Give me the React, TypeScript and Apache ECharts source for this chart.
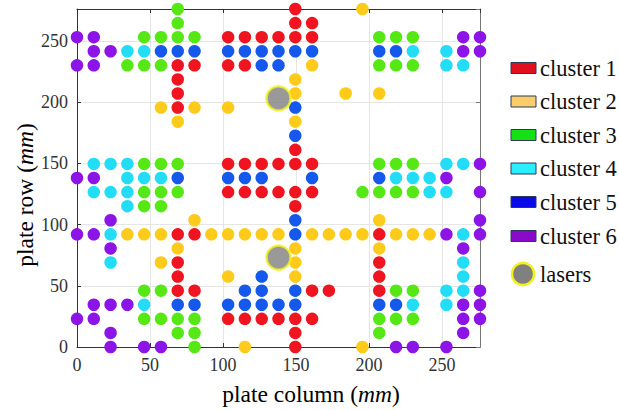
import React, { useEffect, useRef } from "react";
import * as echarts from "echarts";

const clusterNames = ["cluster 1", "cluster 2", "cluster 3", "cluster 4", "cluster 5", "cluster 6"];
const markerColors = ["#F01420", "#FFCB1A", "#55E814", "#22DDF5", "#1458EC", "#8C14E6"];
const legendColors = ["#E0101E", "#F8CD6A", "#14E014", "#2AEEFF", "#0A0AE6", "#8A0ACC"];

const xTicks = [0, 50, 100, 150, 200, 250];
const yTicks = [0, 50, 100, 150, 200, 250];
const xTitle = "{n|plate column (}{i|mm}{n|)}";
const yTitle = "{n|plate row (}{i|mm}{n|)}";

// positions in mm (plate column, plate row)
const cluster1: number[][] = [
  [69, 230], [80.5, 230], [69, 218.5], [69, 207], [69, 195.5],
  [103.5, 253], [115, 253], [126.5, 253], [138, 253], [149.5, 253], [161, 253],
  [149.5, 276], [149.5, 264.5], [161, 264.5], [103.5, 230], [115, 230],
  [149.5, 161],
  [103.5, 149.5], [115, 149.5], [126.5, 149.5], [138, 149.5], [149.5, 149.5], [161, 149.5],
  [103.5, 126.5], [115, 126.5], [126.5, 126.5], [138, 126.5], [149.5, 126.5], [161, 126.5],
  [149.5, 115],
  [69, 92], [80.5, 92], [69, 69], [69, 57.5], [69, 46], [80.5, 46],
  [161, 46], [172.5, 46],
  [103.5, 23], [115, 23], [126.5, 23], [138, 23], [149.5, 23], [161, 23],
  [149.5, 11.5], [149.5, 0],
  [207, 92], [207, 69], [207, 57.5], [207, 46],
];
const cluster2: number[][] = [
  [57.5, 195.5], [80.5, 195.5], [69, 184],
  [161, 230], [149.5, 218.5], [149.5, 207], [184, 207], [103.5, 195.5], [149.5, 184], [195.5, 276], [207, 207],
  [80.5, 103.5],
  [34.5, 92], [46, 92], [57.5, 92], [92, 92], [103.5, 92], [115, 92], [126.5, 92], [138, 92],
  [161, 92], [172.5, 92], [184, 92], [195.5, 92], [218.5, 92], [230, 92], [241.5, 92],
  [207, 103.5],
  [69, 80.5], [57.5, 69], [149.5, 80.5], [149.5, 69], [103.5, 57.5], [149.5, 57.5],
  [115, 0], [207, 80.5], [195.5, 0],
];
const cluster3: number[][] = [
  [46, 253], [57.5, 253], [69, 253], [80.5, 253], [69, 276], [69, 264.5],
  [34.5, 230], [46, 230], [57.5, 230],
  [207, 253], [218.5, 253], [230, 253], [207, 230], [218.5, 230], [230, 230],
  [46, 149.5], [57.5, 149.5], [69, 149.5],
  [46, 126.5], [57.5, 126.5], [69, 126.5],
  [46, 115], [57.5, 115],
  [207, 149.5], [218.5, 149.5], [230, 149.5],
  [195.5, 126.5], [207, 126.5], [218.5, 126.5], [230, 126.5],
  [46, 46], [57.5, 46],
  [46, 23], [57.5, 23], [69, 23], [80.5, 23],
  [69, 11.5], [80.5, 11.5], [80.5, 0],
  [218.5, 46], [230, 46],
  [207, 23], [218.5, 23], [230, 23], [207, 11.5],
];
const cluster4: number[][] = [
  [34.5, 241.5], [46, 241.5], [230, 241.5], [253, 241.5], [253, 230], [264.5, 230],
  [11.5, 149.5], [23, 149.5], [34.5, 149.5],
  [34.5, 138], [46, 138], [57.5, 138],
  [11.5, 126.5], [23, 126.5], [34.5, 126.5],
  [34.5, 115], [23, 92],
  [253, 149.5], [264.5, 149.5],
  [218.5, 138], [230, 138], [241.5, 138],
  [241.5, 126.5], [253, 126.5],
  [264.5, 92],
  [23, 69], [46, 34.5],
  [264.5, 69], [264.5, 57.5], [253, 46], [264.5, 46], [230, 34.5], [253, 34.5],
];
const cluster5: number[][] = [
  [57.5, 241.5], [69, 241.5], [80.5, 241.5],
  [103.5, 241.5], [115, 241.5], [126.5, 241.5], [138, 241.5], [149.5, 241.5], [161, 241.5],
  [126.5, 230], [138, 230], [149.5, 195.5],
  [207, 241.5], [218.5, 241.5],
  [69, 138], [149.5, 172.5], [103.5, 138], [115, 138], [126.5, 138], [161, 138],
  [149.5, 103.5], [149.5, 92], [207, 138],
  [69, 34.5], [80.5, 34.5], [126.5, 57.5], [115, 46], [126.5, 46], [149.5, 46],
  [103.5, 34.5], [115, 34.5], [126.5, 34.5], [138, 34.5], [149.5, 34.5],
  [207, 34.5], [218.5, 34.5],
];
const cluster6: number[][] = [
  [0, 253], [11.5, 253], [11.5, 241.5], [23, 241.5], [0, 230], [11.5, 230],
  [264.5, 253], [276, 253], [264.5, 241.5], [276, 241.5],
  [0, 138], [11.5, 138], [23, 103.5], [0, 92], [11.5, 92],
  [276, 149.5], [253, 138], [276, 126.5], [276, 103.5], [253, 92], [276, 92],
  [23, 80.5], [11.5, 34.5], [23, 34.5], [34.5, 34.5], [0, 23], [11.5, 23], [23, 11.5],
  [23, 0], [46, 0], [57.5, 0],
  [264.5, 80.5], [264.5, 34.5], [276, 34.5], [276, 46], [264.5, 23], [276, 23], [264.5, 11.5],
  [218.5, 0], [230, 0], [253, 0],
];
const lasers: number[][] = [[138, 203], [138, 73]];

const clusters = [cluster1, cluster2, cluster3, cluster4, cluster5, cluster6];

const FONT = "'Liberation Serif', 'Times New Roman', serif";

export default function App() {
  const ref = useRef<HTMLDivElement>(null);
  useEffect(() => {
    if (!ref.current) return;
    const chart = echarts.init(ref.current, null, { renderer: "svg" });
    const axisColor = "#333";
    const gridLeft = 77, gridTop = 9, gridW = 403, gridH = 338;

    const series: any[] = clusters.map((d, i) => ({
      name: clusterNames[i],
      type: "scatter",
      data: d,
      symbol: "circle",
      symbolSize: 12.5,
      clip: false,
      itemStyle: { color: markerColors[i], opacity: 1 },
      z: 2,
    }));
    series.push({
      name: "lasers",
      type: "scatter",
      data: lasers,
      symbol: "circle",
      symbolSize: 24,
      clip: false,
      itemStyle: { color: "#808080", borderColor: "#F2F21A", borderWidth: 2.5 },
      z: 3,
    });

    const titleRich = {
      n: { fontFamily: FONT, fontSize: 23.5, color: "#111" },
      i: { fontFamily: FONT, fontSize: 23.5, color: "#111", fontStyle: "italic" },
    };

    const graphics: any[] = [];
    const legendY = [68, 101.5, 135, 168.5, 202, 236];
    clusterNames.forEach((n, i) => {
      graphics.push({
        type: "rect",
        shape: { x: 511, y: legendY[i] - 5.5, width: 25, height: 11 },
        style: { fill: legendColors[i], stroke: "#2a3a5a", lineWidth: 1 },
      });
      graphics.push({
        type: "text",
        x: 540,
        y: legendY[i],
        style: { text: n, font: `22.5px ${FONT}`, fill: "#111", verticalAlign: "middle", align: "left" },
      });
    });
    graphics.push({
      type: "circle",
      shape: { cx: 523, cy: 274, r: 11 },
      style: { fill: "#808080", stroke: "#F2F21A", lineWidth: 2.5 },
    });
    graphics.push({
      type: "text",
      x: 540,
      y: 274,
      style: { text: "lasers", font: `22.5px ${FONT}`, fill: "#111", verticalAlign: "middle", align: "left" },
    });
    graphics.push({
      type: "text",
      x: 311,
      y: 394,
      style: { text: xTitle, rich: titleRich, align: "center", verticalAlign: "middle" },
    });
    graphics.push({
      type: "text",
      x: 25,
      y: 195,
      rotation: Math.PI / 2,
      style: { text: yTitle, rich: titleRich, align: "center", verticalAlign: "middle" },
    });

    const baseAxis = {
      type: "value",
      min: 0,
      max: 276,
      interval: 50,
    };

    chart.setOption({
      animation: false,
      backgroundColor: "#ffffff",
      grid: { left: gridLeft, top: gridTop, width: gridW, height: gridH, containLabel: false },
      xAxis: [
        {
          ...baseAxis,
          position: "bottom",
          axisLine: { show: true, onZero: false, lineStyle: { color: axisColor, width: 1 } },
          axisTick: { show: true, inside: true, length: 4, lineStyle: { color: axisColor } },
          axisLabel: {
            show: true,
            showMaxLabel: false,
            margin: 9,
            fontFamily: FONT,
            fontSize: 18,
            color: "#333",
            formatter: (v: number) => (xTicks.includes(v) ? String(v) : ""),
          },
          splitLine: { show: true, lineStyle: { color: "#E6E6E6", width: 1 } },
        },
        {
          ...baseAxis,
          position: "top",
          axisLine: { show: true, onZero: false, lineStyle: { color: axisColor, width: 1 } },
          axisTick: { show: true, inside: true, length: 4, lineStyle: { color: axisColor } },
          axisLabel: { show: false },
          splitLine: { show: false },
        },
      ],
      yAxis: [
        {
          ...baseAxis,
          position: "left",
          axisLine: { show: true, onZero: false, lineStyle: { color: axisColor, width: 1 } },
          axisTick: { show: true, inside: true, length: 4, lineStyle: { color: axisColor } },
          axisLabel: {
            show: true,
            showMaxLabel: false,
            margin: 9,
            fontFamily: FONT,
            fontSize: 18,
            color: "#333",
            formatter: (v: number) => (yTicks.includes(v) ? String(v) : ""),
          },
          splitLine: { show: true, lineStyle: { color: "#E6E6E6", width: 1 } },
        },
        {
          ...baseAxis,
          position: "right",
          axisLine: { show: true, onZero: false, lineStyle: { color: "#777", width: 1 } },
          axisTick: { show: true, inside: true, length: 4, lineStyle: { color: "#777" } },
          axisLabel: { show: false },
          splitLine: { show: false },
        },
      ],
      series,
      graphic: graphics,
    });
    return () => chart.dispose();
  }, []);
  return (
    <div
      ref={ref}
      style={{ position: "fixed", left: 0, top: 0, width: 619, height: 410, background: "#fff" }}
    />
  );
}
